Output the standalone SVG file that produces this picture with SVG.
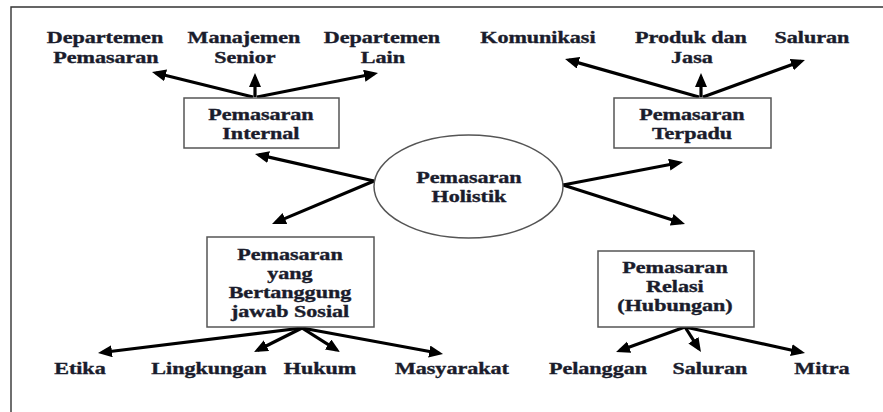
<svg xmlns="http://www.w3.org/2000/svg" width="883" height="412" viewBox="0 0 883 412">
<style>
  text { font-family: "Liberation Serif", "Times New Roman", serif; font-weight: bold; font-size: 16px; fill: #1a1c2c; stroke: #1a1c2c; stroke-width: 0.35; text-anchor: middle; transform-box: fill-box; transform-origin: center; transform: scaleX(1.38); }
  .box { fill: #ffffff; stroke: #555555; stroke-width: 1.5; }
  .frame { fill: none; stroke: #333333; stroke-width: 1.4; }
  .arr { fill: none; stroke: #000000; stroke-width: 3.2; marker-end: url(#ah); }
</style>
<defs>
  <marker id="ah" markerUnits="userSpaceOnUse" markerWidth="15" markerHeight="13" refX="10" refY="6" orient="auto">
    <path d="M0,0 L14,6 L0,12 z" fill="#000000"/>
  </marker>
</defs>
<rect width="883" height="412" fill="#ffffff"/>
<path class="frame" d="M11,412 V7 H883"/>

<g id="connectors">
  <path class="arr" d="M253,97 L155.9,73"/>
  <path class="arr" d="M255,97 L255,77"/>
  <path class="arr" d="M257,97 L374.1,73.8"/>
  <path class="arr" d="M374,181 L258.9,154.9"/>
  <path class="arr" d="M374,181 L275.7,222.4"/>
  <path class="arr" d="M563,185 L679.1,162.8"/>
  <path class="arr" d="M563,185 L681.2,222.8"/>
  <path class="arr" d="M699,97 L568.9,60.1"/>
  <path class="arr" d="M701,97 L701,77"/>
  <path class="arr" d="M703,97 L801.2,61.3"/>
  <path class="arr" d="M302,328 L102,352.5"/>
  <path class="arr" d="M302,328 L257.6,350.2"/>
  <path class="arr" d="M302,328 L336.6,349.9"/>
  <path class="arr" d="M302,328 L439.1,353.3"/>
  <path class="arr" d="M685,327 L619.8,350.6"/>
  <path class="arr" d="M685,327 L698.8,348.6"/>
  <path class="arr" d="M685,327 L801.1,352.2"/>
</g>

<g id="holistik">
  <ellipse cx="468.5" cy="186.5" rx="94.5" ry="51.5" fill="#ffffff" stroke="#555555" stroke-width="1.5"/>
  <text x="469" y="183">Pemasaran</text>
  <text x="469" y="202">Holistik</text>
</g>

<g id="internal">
  <rect class="box" x="184" y="98" width="155" height="50"/>
  <text x="261" y="120">Pemasaran</text>
  <text x="261" y="139">Internal</text>
</g>

<g id="terpadu">
  <rect class="box" x="614" y="98" width="157" height="50"/>
  <text x="692" y="120">Pemasaran</text>
  <text x="692" y="139">Terpadu</text>
</g>

<g id="sosial">
  <rect class="box" x="207" y="237" width="167" height="90"/>
  <text x="290" y="260">Pemasaran</text>
  <text x="290" y="279">yang</text>
  <text x="290" y="298">Bertanggung</text>
  <text x="290" y="317">jawab Sosial</text>
</g>

<g id="relasi">
  <rect class="box" x="598" y="251" width="156" height="76"/>
  <text x="675" y="273">Pemasaran</text>
  <text x="675" y="292">Relasi</text>
  <text x="675" y="311">(Hubungan)</text>
</g>

<g id="dept-pemasaran">
  <text x="105" y="43">Departemen</text>
  <text x="106" y="63">Pemasaran</text>
</g>
<g id="manajemen-senior">
  <text x="244" y="43">Manajemen</text>
  <text x="245" y="63">Senior</text>
</g>
<g id="dept-lain">
  <text x="382" y="43">Departemen</text>
  <text x="383" y="63">Lain</text>
</g>
<g id="komunikasi">
  <text x="538" y="43">Komunikasi</text>
</g>
<g id="produk-jasa">
  <text x="691" y="43">Produk dan</text>
  <text x="692" y="63">Jasa</text>
</g>
<g id="saluran-top">
  <text x="812" y="43">Saluran</text>
</g>

<g id="etika"><text x="80" y="374">Etika</text></g>
<g id="lingkungan"><text x="209" y="374">Lingkungan</text></g>
<g id="hukum"><text x="320" y="374">Hukum</text></g>
<g id="masyarakat"><text x="452" y="374">Masyarakat</text></g>
<g id="pelanggan"><text x="598" y="374">Pelanggan</text></g>
<g id="saluran-bottom"><text x="710" y="374">Saluran</text></g>
<g id="mitra"><text x="822" y="374">Mitra</text></g>
</svg>
